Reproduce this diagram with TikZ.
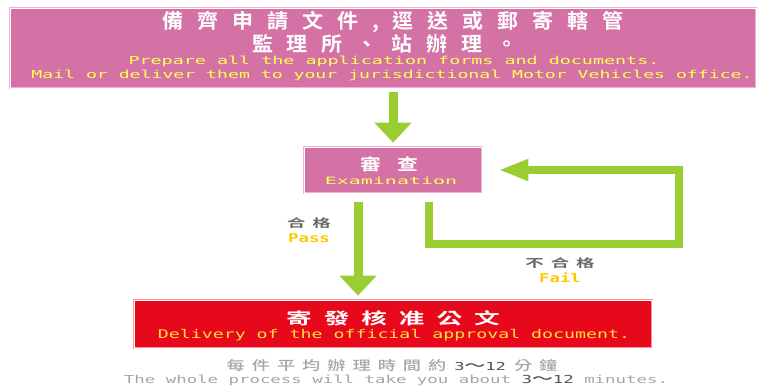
\documentclass[tikz,border=0pt]{standalone}
\usepackage{fontspec}
\usetikzlibrary{arrows.meta}
\newfontfamily\cjkb{Noto Sans CJK TC}[UprightFont={* Bold}]
\newfontfamily\cjkm{Noto Sans CJK TC}[UprightFont={* Medium}]
\newfontfamily\enm{DejaVu Sans Mono}
\newfontfamily\enmb{DejaVu Sans Mono}[UprightFont={* Bold}]
\newcommand\mytxt[4]{{#1\fontsize{#2}{#2}\selectfont\addfontfeatures{FakeStretch=#3}#4}}
\def\spc#1{\def\spcgap{#1}\spcA}
\def\spcA#1{\spcB#1\relax}
\def\spcB#1{\ifx#1\relax\else #1\expandafter\spcC\fi}
\def\spcC#1{\ifx#1\relax\else\hspace{\spcgap}#1\expandafter\spcC\fi}
\newcommand\wave{\mytxt{\cjkm}{13}{1.6}{〜}}
\definecolor{pinkfill}{RGB}{212,114,166}
\definecolor{pinkedge}{RGB}{238,178,212}
\definecolor{redfill}{RGB}{232,8,28}
\definecolor{rededge}{RGB}{245,150,160}
\definecolor{ggreen}{RGB}{154,205,50}
\definecolor{ytext}{RGB}{255,255,85}
\definecolor{ytextr}{RGB}{255,225,60}
\definecolor{gold}{RGB}{255,200,0}
\definecolor{glabel}{RGB}{105,105,105}
\definecolor{lgray}{RGB}{165,165,165}
\definecolor{dgray}{RGB}{80,80,80}
\tikzset{
  boxbase/.style={inner sep=0pt, line width=0.8pt, double distance=0.8pt, double=white},
  pinkbox/.style={boxbase, fill=pinkfill, draw=pinkedge},
  redbox/.style={boxbase, fill=redfill, draw=rededge},
  txt/.style={inner sep=0pt, anchor=center},
  garrow/.style={draw=ggreen, line width=9pt, -{Triangle[width=36pt,length=20pt]}},
  gfail/.style={draw=ggreen, line width=8pt, line join=miter, -{Triangle[width=20pt,length=30pt]}}
}
\begin{document}
\begin{tikzpicture}[x=1pt,y=-1pt]
\useasboundingbox (0,0) rectangle (762,389);
% boxes
\node[pinkbox, minimum width=746pt, minimum height=80pt] (top) at (383,48) {};
\node[pinkbox, minimum width=178pt, minimum height=46pt] (exam) at (393,170) {};
\node[redbox, minimum width=518pt, minimum height=48pt] (red) at (393,324) {};
% top texts
\node[txt, text=white] (t1) at (393,22) {\mytxt{\cjkb}{20}{1.05}{\spc{14pt}{備齊申請文件,逕送或郵寄轄管}}};
\node[txt, text=white] (t2) at (385,44) {\mytxt{\cjkb}{20}{1.05}{\spc{14pt}{監理所、站辦理。}}};
\node[txt, text=ytext] (t3) at (394,61) {\mytxt{\enm}{11}{1.67}{Prepare all the application forms and documents.}};
\node[txt, text=ytext] (t4) at (392,75) {\mytxt{\enm}{11}{1.65}{Mail or deliver them to your jurisdictional Motor Vehicles office.}};
% exam texts
\node[txt, text=white] (e1) at (389,164) {\mytxt{\cjkb}{16}{1.3}{\spc{16pt}{審查}}};
\node[txt, text=ytext] (e2) at (391,181) {\mytxt{\enm}{10}{2.0}{Examination}};
% red texts
\node[txt, text=white] (r1) at (393,318) {\mytxt{\cjkb}{16}{1.6}{\spc{12pt}{寄發核准公文}}};
\node[txt, text=ytextr] (r2) at (394,335) {\mytxt{\enm}{12}{1.52}{Delivery of the official approval document.}};
% labels
\node[txt, text=glabel] (p1) at (309,223) {\mytxt{\cjkb}{11.5}{1.6}{\spc{7pt}{合格}}};
\node[txt, text=gold] (p2) at (309,238) {\mytxt{\enmb}{12}{1.45}{Pass}};
\node[txt, text=glabel] (f1) at (560,263) {\mytxt{\cjkb}{11.5}{1.6}{\spc{7pt}{不合格}}};
\node[txt, text=gold] (f2) at (560,278) {\mytxt{\enmb}{12}{1.45}{Fail}};
% bottom
\node[txt, text=lgray] (b1) at (392,366) {\mytxt{\cjkm}{13}{1.4}{\spc{7pt}{每件平均辦理時間約}\hspace{8pt}{\color{dgray}\mytxt{\enm}{11}{1.55}{3}\wave\mytxt{\enm}{11}{1.55}{12}}\hspace{8pt}\spc{7pt}{分鐘}}};
\node[txt, text=lgray] (b2) at (396,380) {\mytxt{\enm}{11}{1.58}{The whole process will take you about {\color{dgray}3\wave 12} minutes.}};
% connectors
\draw[garrow] ([yshift=-4pt]exam.north |- top.south) -- ([yshift=4pt]exam.north);
\draw[garrow] ([xshift=-35pt,yshift=-9pt]exam.south) -- ([xshift=-35pt,yshift=4pt]exam.south |- red.north);
\coordinate (fc) at (679,244);
\draw[gfail] ([xshift=36pt,yshift=-9pt]exam.south) |- (fc) |- ([xshift=16pt]exam.east);
\end{tikzpicture}
\end{document}
